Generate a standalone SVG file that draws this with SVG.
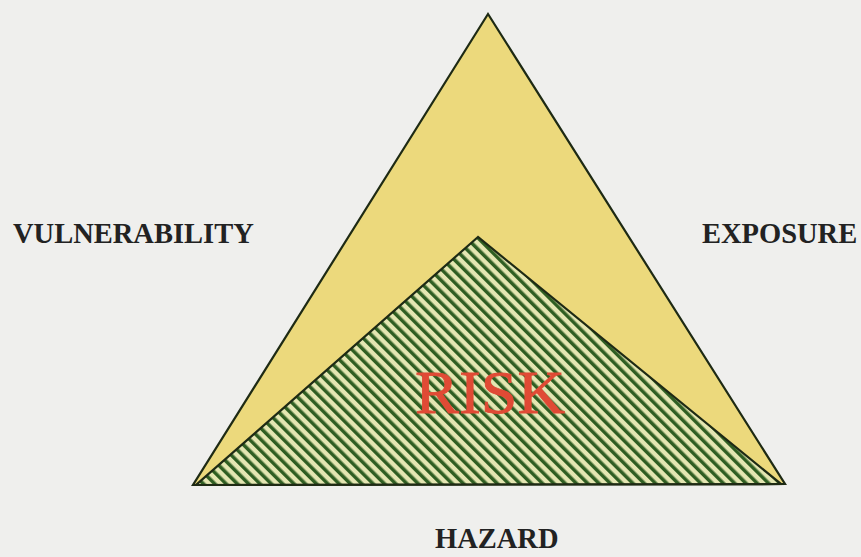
<svg xmlns="http://www.w3.org/2000/svg" width="861" height="557" viewBox="0 0 861 557">
<defs>
<pattern id="hatch" patternUnits="userSpaceOnUse" width="8" height="8" patternTransform="rotate(-45)">
<rect width="8" height="8" fill="#e4e6b2"/>
<rect x="0" y="0" width="3.5" height="8" fill="#2f5e22"/>
</pattern>
<style>
.lbl{font-family:"Liberation Serif","Times New Roman",serif;font-weight:bold;font-size:28.5px;fill:#222}
.edge{stroke:#1e2a14;stroke-width:2.2;stroke-linejoin:miter}
</style>
</defs>
<rect width="861" height="557" fill="#efefed"/>
<g id="outer-triangle">
<polygon class="edge" points="488,14 193,485 785,484" fill="#ecd97c"/>
</g>
<g id="risk-triangle">
<polygon class="edge" points="478,237 196,485 781,484" fill="url(#hatch)"/>
<text x="415" y="413" font-family="Liberation Serif, Times New Roman, serif" font-size="62" fill="#e04a35" stroke="#e04a35" stroke-width="0.8" textLength="150" lengthAdjust="spacingAndGlyphs">RISK</text>
</g>
<g id="vulnerability"><text class="lbl" x="13" y="243">VULNERABILITY</text></g>
<g id="exposure"><text class="lbl" x="702" y="243">EXPOSURE</text></g>
<g id="hazard"><text class="lbl" x="435" y="548">HAZARD</text></g>
</svg>
